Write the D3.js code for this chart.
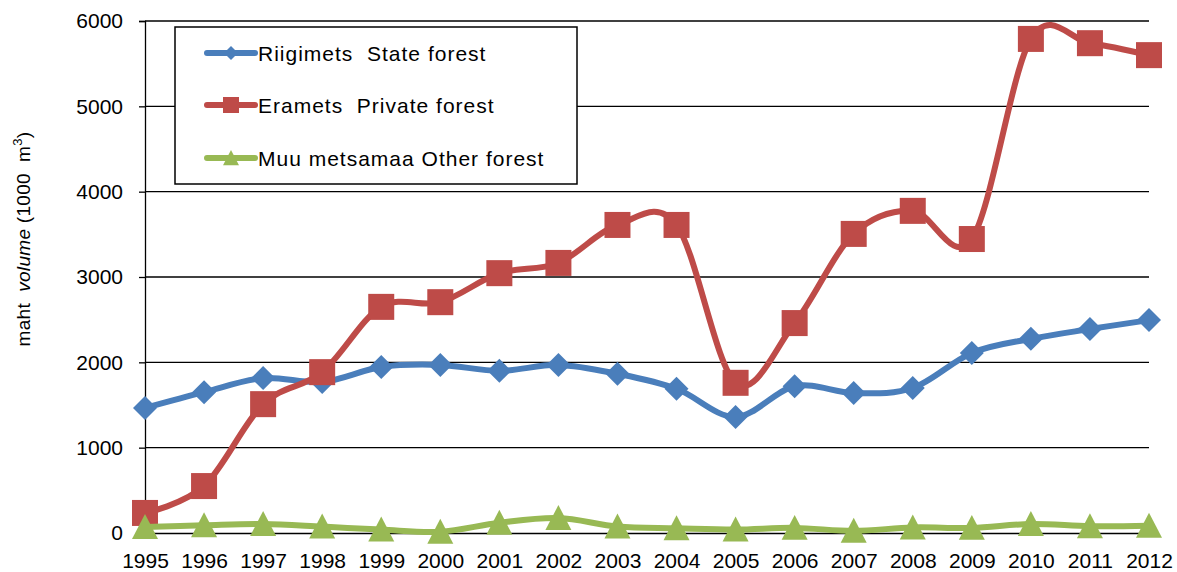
<!DOCTYPE html>
<html><head><meta charset="utf-8">
<script src="https://cdn.jsdelivr.net/npm/d3@7"></script>
<style>body{margin:0;background:#fff}svg{display:block;font-family:"Liberation Sans",Arial,sans-serif}text{white-space:pre}</style>
</head><body><svg id="c" width="1177" height="572"></svg>
<script>
const years = [1995,1996,1997,1998,1999,2000,2001,2002,2003,2004,2005,2006,2007,2008,2009,2010,2011,2012];
const stateForest = [1465,1650,1815,1770,1945,1970,1900,1970,1865,1690,1360,1720,1640,1700,2110,2275,2390,2495];
const privateForest = [235,550,1510,1885,2650,2705,3045,3165,3610,3610,1760,2460,3505,3775,3445,5790,5740,5600];
const otherForest = [70,90,105,75,40,15,120,175,75,55,40,60,25,65,60,105,80,85];
const yTicks = [0,1000,2000,3000,4000,5000,6000];
const seriesNames = ["Riigimets  State forest","Eramets  Private forest","Muu metsamaa Other forest"];

const svg = d3.select("#c");
const L=145,R=1149,T=21,B=533;
const x = d3.scalePoint().domain(years).range([L,R]).padding(0);
const y = d3.scaleLinear().domain([0,6000]).range([B,T]);
const FF="Liberation Sans, Arial, sans-serif";

svg.append("g").selectAll("line").data(yTicks.filter(d=>d>0)).join("line")
  .attr("x1",L).attr("x2",R).attr("y1",d=>y(d)).attr("y2",d=>y(d))
  .attr("stroke","#000").attr("stroke-width",1.3);

const ya = svg.append("g").attr("transform",`translate(${L},0)`)
  .call(d3.axisLeft(y).tickValues(yTicks).tickSize(6).tickPadding(16).tickFormat(d3.format("d")));
ya.select(".domain").attr("stroke","#000").attr("stroke-width",1.3);
ya.selectAll(".tick line").attr("stroke","#000").attr("stroke-width",1.3);
ya.selectAll("text").attr("font-size",21).attr("fill","#000").attr("font-family",FF);

const xa = svg.append("g").attr("transform",`translate(0,${B})`)
  .call(d3.axisBottom(x).tickSize(0).tickPadding(20).tickFormat(d3.format("d")));
xa.select(".domain").attr("stroke","#000").attr("stroke-width",1.3);
xa.selectAll("text").attr("font-size",21).attr("fill","#000").attr("font-family",FF);

svg.append("text").attr("transform","translate(30,239) rotate(-90)").attr("text-anchor","middle")
  .attr("font-size",19).attr("fill","#000").attr("letter-spacing",0.3)
  .call(t=>{t.append("tspan").text("maht  ");t.append("tspan").attr("font-style","italic").text("volume");
    t.append("tspan").text(" (1000  m");t.append("tspan").attr("font-size",13).attr("dy",-8).text("3");
    t.append("tspan").attr("dy",8).text(")");});

const colors = ["#4A7EBB","#BE4B48","#98B954"];
const data = [stateForest,privateForest,otherForest];
const line = d3.line().x((d,i)=>x(years[i])).y(d=>y(d)).curve(d3.curveCatmullRom.alpha(0));

function marker(g,k,cx,cy,s){
  if(k===0){ g.append("path").attr("d",`M${cx},${cy-s}L${cx+s},${cy}L${cx},${cy+s}L${cx-s},${cy}Z`).attr("fill",colors[0]); }
  else if(k===1){ g.append("rect").attr("x",cx-s).attr("y",cy-s).attr("width",2*s).attr("height",2*s).attr("fill",colors[1]); }
  else { g.append("path").attr("d",`M${cx},${cy-s}L${cx+s},${cy+s*0.92}L${cx-s},${cy+s*0.92}Z`).attr("fill",colors[2]); }
}
const sizes=[12,13,13];
[0,1,2].forEach(k=>{
  const g=svg.append("g");
  g.append("path").datum(data[k]).attr("d",line).attr("fill","none").attr("stroke",colors[k]).attr("stroke-width",6).attr("stroke-linejoin","round");
  data[k].forEach((v,i)=>marker(g,k,x(years[i]),y(v),sizes[k]));
});

const lg=svg.append("g");
lg.append("rect").attr("x",175).attr("y",27).attr("width",402).attr("height",157).attr("fill","#fff").attr("stroke","#000").attr("stroke-width",1.5);
const rows=[53,105,158];
rows.forEach((ry,k)=>{
  lg.append("line").attr("x1",207).attr("x2",255).attr("y1",ry).attr("y2",ry).attr("stroke",colors[k]).attr("stroke-width",6).attr("stroke-linecap","round");
  marker(lg,k,231,ry,k===0?7:8);
  lg.append("text").attr("x",258).attr("y",ry+8).attr("font-size",21).attr("letter-spacing",1.0).attr("fill","#000").attr("font-family",FF).text(seriesNames[k]);
});
</script></body></html>
